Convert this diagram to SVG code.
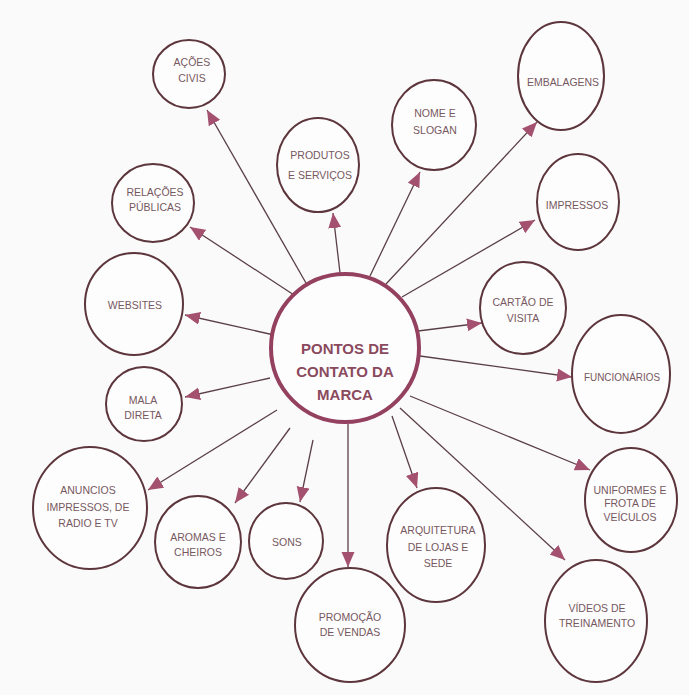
<svg xmlns="http://www.w3.org/2000/svg" width="689" height="695" viewBox="0 0 689 695">
<defs>
<marker id="ah" markerUnits="userSpaceOnUse" markerWidth="16" markerHeight="14" refX="15" refY="6.5" orient="auto">
<path d="M0,0 L15,6.5 L0,13 z" fill="#a4506f"/>
</marker>
<style>
.n{fill:#fefdfd;stroke:#5c363c;stroke-width:2}
.t{font-family:"Liberation Sans",Arial,sans-serif;font-size:10.5px;fill:#76585f;text-anchor:middle}
.c{fill:#fefdfd;stroke:#94405f;stroke-width:4}
.ct{font-family:"Liberation Sans",Arial,sans-serif;font-size:15px;font-weight:bold;fill:#8a4a5e;text-anchor:middle}
.l{stroke:#5a4046;stroke-width:1.3;fill:none;marker-end:url(#ah)}
</style>
</defs>
<rect width="689" height="695" fill="#fbfafa"/>
<g id="connectors">
<line class="l" x1="310" y1="290" x2="207" y2="110"/>
<line class="l" x1="340" y1="273" x2="333" y2="213"/>
<line class="l" x1="370" y1="276" x2="420" y2="172"/>
<line class="l" x1="386" y1="284" x2="537" y2="122"/>
<line class="l" x1="402" y1="297" x2="535" y2="220"/>
<line class="l" x1="418" y1="331" x2="482" y2="323"/>
<line class="l" x1="420" y1="356" x2="572" y2="377"/>
<line class="l" x1="410" y1="396" x2="590" y2="470"/>
<line class="l" x1="400" y1="408" x2="565" y2="560"/>
<line class="l" x1="392" y1="416" x2="417" y2="488"/>
<line class="l" x1="348" y1="424" x2="348" y2="567"/>
<line class="l" x1="313" y1="440" x2="300" y2="502"/>
<line class="l" x1="290" y1="428" x2="235" y2="503"/>
<line class="l" x1="277" y1="410" x2="148" y2="490"/>
<line class="l" x1="270" y1="378" x2="185" y2="397"/>
<line class="l" x1="274" y1="335" x2="185" y2="315"/>
<line class="l" x1="294" y1="295" x2="190" y2="227"/>
</g>
<g id="center"><circle class="c" cx="345" cy="348" r="74"/>
<text class="ct" x="345" y="354">PONTOS DE</text><text class="ct" x="345" y="377">CONTATO DA</text><text class="ct" x="345" y="400">MARCA</text></g>
<g id="acoes"><ellipse class="n" cx="189" cy="74" rx="36" ry="34"/><text class="t" x="192" y="66">AÇÕES</text><text class="t" x="192" y="82">CIVIS</text></g>
<g id="produtos"><ellipse class="n" cx="318" cy="165" rx="41" ry="47"/><text class="t" x="320" y="159">PRODUTOS</text><text class="t" x="320" y="179">E SERVIÇOS</text></g>
<g id="nome"><ellipse class="n" cx="434" cy="125" rx="42" ry="45"/><text class="t" x="435" y="117">NOME E</text><text class="t" x="435" y="134">SLOGAN</text></g>
<g id="embalagens"><ellipse class="n" cx="561" cy="76" rx="43" ry="54"/><text class="t" x="563" y="86" textLength="72" lengthAdjust="spacingAndGlyphs">EMBALAGENS</text></g>
<g id="impressos"><ellipse class="n" cx="578" cy="202" rx="41" ry="48"/><text class="t" x="577" y="209">IMPRESSOS</text></g>
<g id="relacoes"><ellipse class="n" cx="153" cy="203" rx="41" ry="39"/><text class="t" x="155" y="196">RELAÇÕES</text><text class="t" x="155" y="211">PÚBLICAS</text></g>
<g id="websites"><ellipse class="n" cx="134" cy="304" rx="49" ry="51"/><text class="t" x="135" y="309">WEBSITES</text></g>
<g id="mala"><ellipse class="n" cx="144" cy="404" rx="38" ry="37"/><text class="t" x="143" y="404">MALA</text><text class="t" x="143" y="419">DIRETA</text></g>
<g id="cartao"><ellipse class="n" cx="523" cy="308" rx="43" ry="46"/><text class="t" x="523" y="306">CARTÃO DE</text><text class="t" x="523" y="322">VISITA</text></g>
<g id="funcionarios"><ellipse class="n" cx="621" cy="374" rx="49" ry="59"/><text class="t" x="622" y="381" textLength="76" lengthAdjust="spacingAndGlyphs">FUNCIONÁRIOS</text></g>
<g id="uniformes"><ellipse class="n" cx="631" cy="500" rx="46" ry="52"/><text class="t" x="630" y="494">UNIFORMES E</text><text class="t" x="630" y="507">FROTA DE</text><text class="t" x="630" y="521">VEÍCULOS</text></g>
<g id="videos"><ellipse class="n" cx="596" cy="621" rx="51" ry="61"/><text class="t" x="597" y="612">VÍDEOS DE</text><text class="t" x="597" y="627">TREINAMENTO</text></g>
<g id="anuncios"><ellipse class="n" cx="90" cy="508" rx="57" ry="61"/><text class="t" x="88" y="494">ANUNCIOS</text><text class="t" x="88" y="511">IMPRESSOS, DE</text><text class="t" x="88" y="527">RADIO E TV</text></g>
<g id="aromas"><ellipse class="n" cx="198" cy="542" rx="43" ry="46"/><text class="t" x="198" y="541">AROMAS E</text><text class="t" x="198" y="556">CHEIROS</text></g>
<g id="sons"><ellipse class="n" cx="286" cy="541" rx="37" ry="38"/><text class="t" x="287" y="546">SONS</text></g>
<g id="promocao"><ellipse class="n" cx="350" cy="625" rx="55" ry="57"/><text class="t" x="350" y="621">PROMOÇÃO</text><text class="t" x="350" y="636">DE VENDAS</text></g>
<g id="arquitetura"><ellipse class="n" cx="436" cy="545" rx="49" ry="57"/><text class="t" x="438" y="534">ARQUITETURA</text><text class="t" x="438" y="551">DE LOJAS E</text><text class="t" x="438" y="567">SEDE</text></g>
</svg>
